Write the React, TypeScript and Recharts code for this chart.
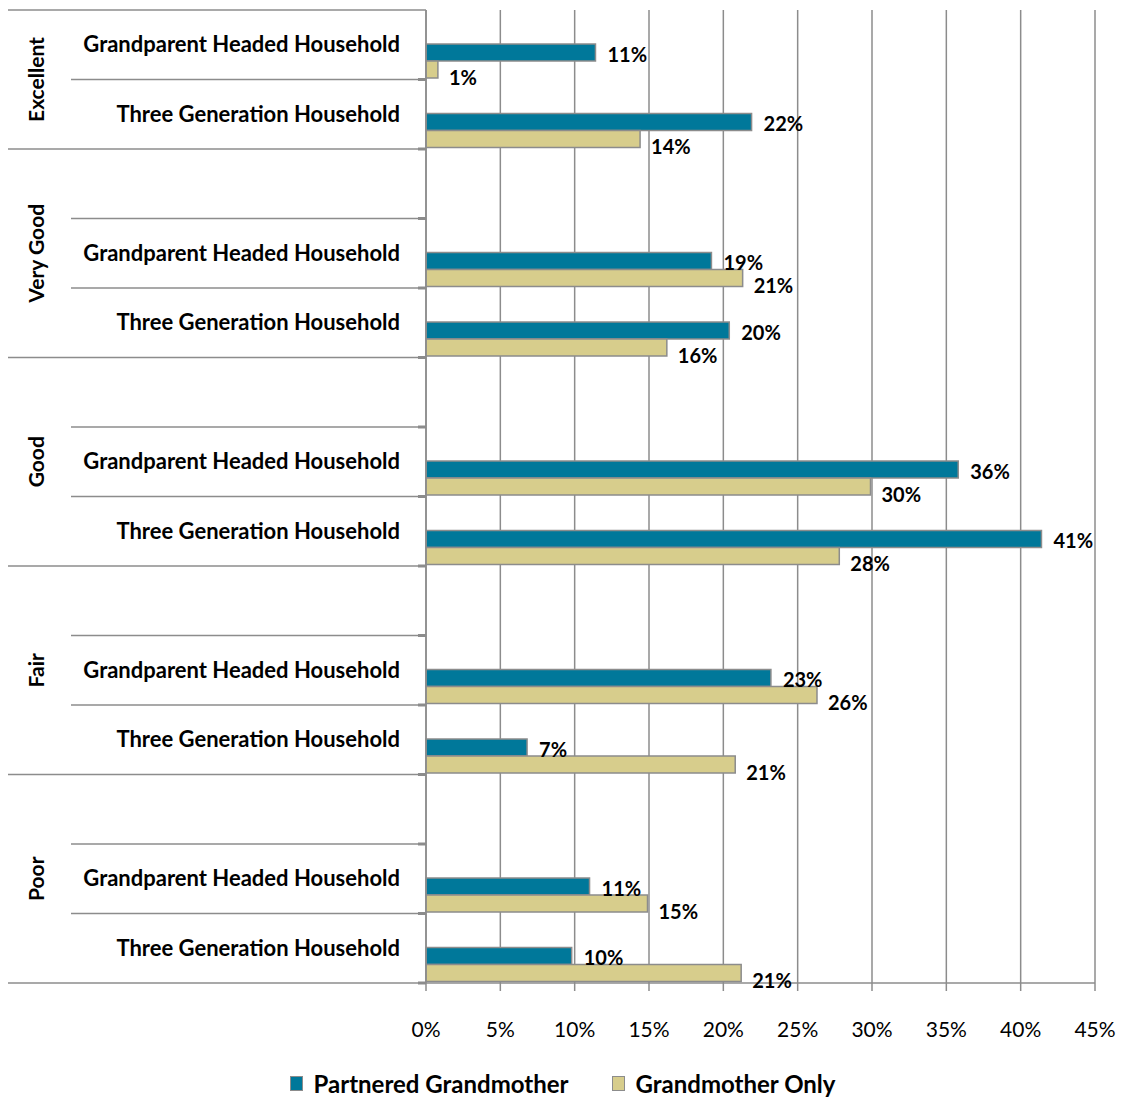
import React from "react"
import { Bar, BarChart, CartesianGrid, LabelList, XAxis, YAxis } from "recharts"

const ratings = ["Excellent", "Very Good", "Good", "Fair", "Poor"]
const blankRowBefore = [false, true, true, true, true]
const households = ["Grandparent Headed Household", "Three Generation Household"]
// two values per rating: grandparent headed, three generation
const partneredGrandmother = [11.4, 21.9, 19.2, 20.4, 35.8, 41.4, 23.2, 6.8, 11.0, 9.8]
const grandmotherOnly = [0.8, 14.4, 21.3, 16.2, 29.9, 27.8, 26.3, 20.8, 14.9, 21.2]
const xTicks = [0, 5, 10, 15, 20, 25, 30, 35, 40, 45]

const TEAL = "#00789A"
const KHAKI = "#D7CD8C"
const EDGE = "#8C8C8C"
const FONT = "Lato, 'Open Sans', sans-serif"

const W = 1125
const H = 1099
const margin = { top: 10, right: 30, bottom: 56, left: 8 }
const Y_AXIS_W = 418
const X_AXIS_H = 60
const PLOT_LEFT = margin.left + Y_AXIS_W
const PLOT_TOP = margin.top
const PLOT_BOTTOM = H - margin.bottom - X_AXIS_H

type Row = { key: string; rating: string; label: string; partnered?: number; gmOnly?: number }

const rows: Row[] = []
ratings.forEach((r, gi) => {
  if (blankRowBefore[gi]) rows.push({ key: `${r}-blank`, rating: r, label: "" })
  households.forEach((h, hi) => {
    rows.push({
      key: `${r}-${h}`,
      rating: r,
      label: h,
      partnered: partneredGrandmother[gi * 2 + hi],
      gmOnly: grandmotherOnly[gi * 2 + hi],
    })
  })
})

const BAND = (PLOT_BOTTOM - PLOT_TOP) / rows.length

function CategoryTick(props: any) {
  const { y, index } = props
  const row = rows[index]
  if (!row) return null
  const top = y - BAND / 2
  const bottom = y + BAND / 2
  const first = index === 0 || rows[index - 1].rating !== row.rating
  const last = index === rows.length - 1 || rows[index + 1].rating !== row.rating
  const count = rows.filter((r) => r.rating === row.rating).length
  return (
    <g>
      {index === 0 && <line x1={8} x2={PLOT_LEFT} y1={top} y2={top} stroke={EDGE} strokeWidth={1.5} />}
      <line x1={last ? 8 : 71} x2={PLOT_LEFT} y1={bottom} y2={bottom} stroke={EDGE} strokeWidth={1.5} />
      <line x1={PLOT_LEFT - 8} x2={PLOT_LEFT} y1={bottom} y2={bottom} stroke={EDGE} strokeWidth={3} />
      {row.label && (
        <text x={400} y={y - 1} textAnchor="end" dominantBaseline="central" fontFamily={FONT} fontWeight={700} fontSize={22} fill="#000">
          {row.label}
        </text>
      )}
      {first && (
        <text
          transform={`translate(35, ${top + (count * BAND) / 2}) rotate(-90)`}
          textAnchor="middle"
          dominantBaseline="central"
          fontFamily={FONT}
          fontWeight={700}
          fontSize={21}
          fill="#000"
        >
          {row.rating}
        </text>
      )}
    </g>
  )
}

function valueLabel(dx: number, dy: number) {
  return (props: any) => {
    const { x, y, width, height, value } = props
    if (value == null) return null
    return (
      <text
        x={x + width + dx}
        y={y + height / 2 + dy}
        dominantBaseline="central"
        fontFamily={FONT}
        fontWeight={700}
        fontSize={20}
        fill="#000"
      >
        {Math.round(value)}%
      </text>
    )
  }
}

const legendItems = [
  { name: "Partnered Grandmother", color: TEAL },
  { name: "Grandmother Only", color: KHAKI },
]

export default function App() {
  return (
    <div style={{ position: "absolute", left: 0, top: 0, width: W, height: H, background: "#fff" }}>
      <BarChart
        width={W}
        height={H}
        data={rows}
        layout="vertical"
        margin={margin}
        barCategoryGap={0}
        barGap={0}
      >
        <CartesianGrid horizontal={false} stroke={EDGE} strokeWidth={1.5} />
        <XAxis
          type="number"
          domain={[0, 45]}
          ticks={xTicks}
          tickFormatter={(v) => `${v}%`}
          height={X_AXIS_H}
          stroke={EDGE}
          strokeWidth={1.5}
          tickSize={8}
          tickMargin={31}
          tick={{ fill: "#000", fontSize: 21, fontFamily: FONT }}
        />
        <YAxis
          type="category"
          dataKey="key"
          width={Y_AXIS_W}
          interval={0}
          tickLine={false}
          stroke={EDGE}
          strokeWidth={1.5}
          tick={<CategoryTick />}
        />
        <Bar dataKey="spacerA" legendType="none" isAnimationActive={false} />
        <Bar dataKey="spacerB" legendType="none" isAnimationActive={false} />
        <Bar dataKey="partnered" fill={TEAL} stroke={EDGE} strokeWidth={1.5} isAnimationActive={false}>
          <LabelList dataKey="partnered" content={valueLabel(12, 1)} />
        </Bar>
        <Bar dataKey="gmOnly" fill={KHAKI} stroke={EDGE} strokeWidth={1.5} isAnimationActive={false}>
          <LabelList dataKey="gmOnly" content={valueLabel(11, 7)} />
        </Bar>
      </BarChart>
      <div
        style={{
          position: "absolute",
          top: 1069,
          left: 0,
          width: W,
          display: "flex",
          justifyContent: "center",
          gap: 43,
          fontFamily: FONT,
          fontWeight: 700,
          fontSize: 24,
        }}
      >
        {legendItems.map((item) => (
          <div key={item.name} style={{ display: "flex", alignItems: "center", gap: 11 }}>
            <div style={{ width: 11, height: 13, background: item.color, border: `1.5px solid ${EDGE}` }} />
            <span>{item.name}</span>
          </div>
        ))}
      </div>
    </div>
  )
}
